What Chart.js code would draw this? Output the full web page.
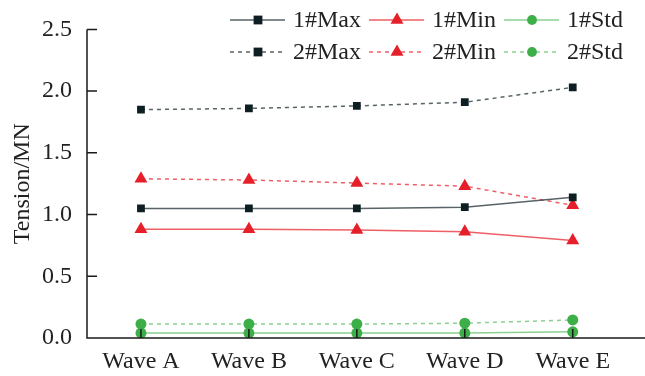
<!DOCTYPE html>
<html><head><meta charset="utf-8">
<script src="https://cdn.jsdelivr.net/npm/chart.js@4.4.1/dist/chart.umd.min.js"></script>
<style>html,body{margin:0;padding:0;background:#fff}#wrap{width:645px;height:376px}</style>
</head><body><div id="wrap"><canvas id="c" width="645" height="376"></canvas></div>
<script>
const categories = ["Wave A","Wave B","Wave C","Wave D","Wave E"];
const max1 = [1.05, 1.05, 1.05, 1.06, 1.14];
const min1 = [0.88, 0.88, 0.875, 0.86, 0.79];
const std1 = [0.04, 0.04, 0.04, 0.04, 0.05];
const max2 = [1.85, 1.86, 1.88, 1.91, 2.03];
const min2 = [1.29, 1.28, 1.255, 1.23, 1.075];
const std2 = [0.113, 0.113, 0.113, 0.12, 0.146];
const yTicks = [0, 0.5, 1.0, 1.5, 2.0, 2.5];

const FONT = "'Liberation Serif','DejaVu Serif',serif";
const C_MAX = '#0e1f24', L_MAX = 'rgba(60,72,76,0.85)';
const C_MIN = '#e6202a', L_MIN = 'rgba(232,40,50,0.75)';
const C_STD = '#3daf48', L_STD = 'rgba(61,175,72,0.6)';

function pts(arr){ return arr.map((v,i)=>({x:i,y:v})); }
function ds(label, arr, color, lineColor, style, dashed, r){
  return {label, data: pts(arr), borderColor: lineColor, backgroundColor: color,
    pointBackgroundColor: color, pointBorderColor: color, pointStyle: style,
    pointRadius: r, pointBorderWidth: 0, borderWidth: 1.5, borderDash: dashed ? [4,4] : [],
    tension: 0, fill: false};
}
const datasets = [
  ds('1#Max', max1, C_MAX, L_MAX, 'rect', false, 5.5),
  ds('1#Min', min1, C_MIN, L_MIN, 'triangle', false, 7.5),
  ds('1#Std', std1, C_STD, L_STD, 'circle', false, 5.5),
  ds('2#Max', max2, C_MAX, L_MAX, 'rect', true, 5.5),
  ds('2#Min', min2, C_MIN, L_MIN, 'triangle', true, 7.5),
  ds('2#Std', std2, C_STD, L_STD, 'circle', true, 5.5),
];

function drawMarker(ctx, style, x, y, r, color){
  ctx.save(); ctx.fillStyle = color; ctx.setLineDash([]);
  ctx.beginPath();
  if (style === 'rect') { const s = r*0.8; ctx.rect(x-s, y-s, 2*s, 2*s); }
  else if (style === 'triangle') {
    ctx.moveTo(x, y - r); ctx.lineTo(x + r*0.866, y + r*0.5); ctx.lineTo(x - r*0.866, y + r*0.5); ctx.closePath();
  } else { ctx.arc(x, y, r*0.9, 0, Math.PI*2); }
  ctx.fill(); ctx.restore();
}

const axisPlugin = {
  id: 'axisPlugin',
  afterDatasetsDraw(chart){
    const ctx = chart.ctx, a = chart.chartArea, xs = chart.scales.x, ys = chart.scales.y;
    ctx.save();
    ctx.strokeStyle = '#1a1a1a'; ctx.lineWidth = 1.5; ctx.setLineDash([]);
    ctx.beginPath();
    ctx.moveTo(a.left, ys.getPixelForValue(2.5)); ctx.lineTo(a.left, a.bottom);
    ctx.lineTo(chart.width, a.bottom);
    yTicks.forEach(v => { const p = ys.getPixelForValue(v); ctx.moveTo(a.left, p); ctx.lineTo(a.left + 10, p); });
    categories.forEach((c,i) => { const p = xs.getPixelForValue(i); ctx.moveTo(p, a.bottom); ctx.lineTo(p, a.bottom - 9); });
    ctx.stroke();
    // legend
    const colX = [230, 369, 504], rowY = [20, 52];
    chart.data.datasets.forEach((d, i) => {
      const col = i % 3, row = Math.floor(i / 3);
      const x0 = colX[col], y0 = rowY[row];
      ctx.strokeStyle = d.borderColor; ctx.lineWidth = 1.5;
      ctx.setLineDash(d.borderDash);
      ctx.beginPath(); ctx.moveTo(x0, y0); ctx.lineTo(x0 + 55, y0); ctx.stroke();
      drawMarker(ctx, d.pointStyle, x0 + 28, y0, d.pointRadius, d.pointBackgroundColor);
      ctx.fillStyle = '#222'; ctx.font = '24px ' + FONT; ctx.textBaseline = 'middle'; ctx.textAlign = 'left';
      ctx.fillText(d.label, x0 + 63, y0 + 1);
    });
    ctx.restore();
  }
};

new Chart(document.getElementById('c'), {
  type: 'line',
  data: { datasets },
  plugins: [axisPlugin],
  options: {
    responsive: false, animation: false, devicePixelRatio: 1,
    layout: { padding: { top: 29, right: 0, left: 0, bottom: 0 } },
    plugins: { legend: { display: false }, tooltip: { enabled: false } },
    scales: {
      x: { type: 'linear', min: -0.5, max: 4.6,
        afterBuildTicks: s => { s.ticks = categories.map((c,i)=>({value:i})); },
        afterFit: s => { s.height = 38; },
        grid: { display: false, drawTicks: false }, border: { display: false },
        ticks: { padding: 9, color: '#222', font: { family: FONT, size: 24 }, autoSkip: false, maxRotation: 0,
          callback: v => categories[v] } },
      y: { min: 0, max: 2.5,
        afterBuildTicks: s => { s.ticks = yTicks.map(v=>({value:v})); },
        afterFit: s => { s.width = 87; },
        grid: { display: false, drawTicks: false }, border: { display: false },
        title: { display: true, text: 'Tension/MN', color: '#222', font: { family: FONT, size: 24 }, padding: { top: 8, bottom: 0 } },
        ticks: { padding: 15, color: '#222', font: { family: FONT, size: 24 }, callback: v => v.toFixed(1) } }
    }
  }
});
</script></body></html>
